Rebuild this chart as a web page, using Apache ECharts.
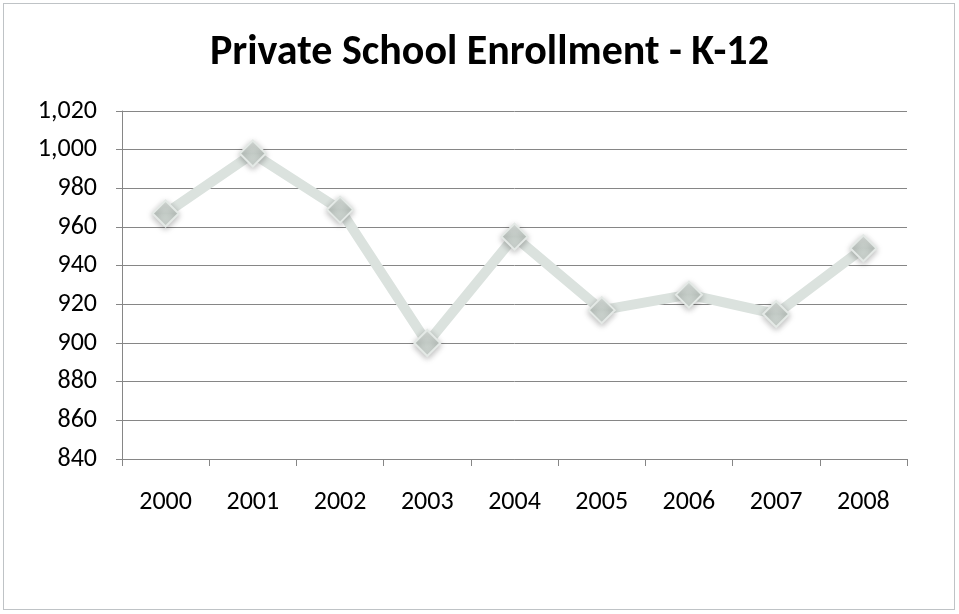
<!DOCTYPE html>
<html><head><meta charset="utf-8">
<script src="https://cdn.jsdelivr.net/npm/echarts@6/dist/echarts.min.js"></script>
<style>
html,body{margin:0;padding:0;background:#fff;}
#frame{position:absolute;left:3px;top:3px;width:952px;height:607px;border:1px solid #bfc3c6;box-sizing:border-box;}
#c{position:absolute;left:0;top:0;width:959px;height:614px;}
</style></head>
<body>
<div id="frame"></div>
<div id="c"></div>
<script>
const categories = ['2000','2001','2002','2003','2004','2005','2006','2007','2008'];
const enrollment = [967, 998, 969, 900, 955, 917, 925, 915, 949];
const titleText = 'Private School Enrollment - K-12';
const yMin = 840, yMax = 1020, yStep = 20;

const FONT = 'Carlito, "Liberation Sans Narrow", "Open Sans", sans-serif';
const chart = echarts.init(document.getElementById('c'), null, {renderer:'canvas'});
chart.setOption({
  backgroundColor: 'transparent',
  animation: false,
  title: {
    text: titleText, left: 205, top: 27,
    textStyle: {fontFamily: FONT, fontSize: 42, fontWeight: 'bold', color: '#000'}
  },
  grid: {left: 122, right: 52, top: 111, bottom: 155},
  xAxis: {
    type: 'category', data: categories, boundaryGap: true,
    axisLine: {lineStyle: {color: '#868686', width: 1}},
    axisTick: {show: true, length: 7, lineStyle: {color: '#868686'}},
    axisLabel: {fontFamily: FONT, fontSize: 26, color: '#000', margin: 30}
  },
  yAxis: {
    type: 'value', min: yMin, max: yMax, interval: yStep,
    axisLine: {show: true, lineStyle: {color: '#868686', width: 1}},
    axisTick: {show: true, length: 6, lineStyle: {color: '#868686'}},
    splitLine: {lineStyle: {color: '#868686', width: 1}},
    axisLabel: {fontFamily: FONT, fontSize: 26, color: '#000', margin: 25,
      formatter: v => v.toLocaleString('en-US')}
  },
  series: [{
    type: 'line', data: enrollment,
    lineStyle: {color: '#dbe2de', width: 10},
    symbol: 'diamond', symbolSize: 26,
    itemStyle: {
      color: new echarts.graphic.LinearGradient(0,0,0,1,[
        {offset:0, color:'#e3e8e5'},{offset:0.5, color:'#c3cbc6'},{offset:1, color:'#d5dcd8'}]),
      borderColor: '#e4e9e6', borderWidth: 2,
      shadowColor: 'rgba(0,0,0,0.25)', shadowBlur: 6, shadowOffsetY: 2
    }
  }]
});
</script>
</body></html>
